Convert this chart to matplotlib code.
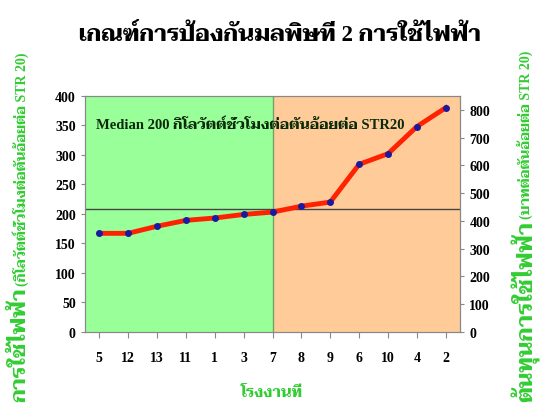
import matplotlib
matplotlib.use("Agg")
import matplotlib.pyplot as plt

plt.rcParams["font.family"] = ["Liberation Serif", "Taviraj"]
plt.rcParams["font.weight"] = "bold"

# factories ordered by electricity use
factories = ["5", "12", "13", "11", "1", "3", "7", "8", "9", "6", "10", "4", "2"]
usage = [167, 167, 179, 189, 193, 199, 203, 213, 220, 284, 302, 348, 380]
median_line = 208
split_at = "7"

title = "เกณฑ์การป้องกันมลพิษที่ 2 การใช้ไฟฟ้า"
median_text = "Median 200 กิโลวัตต์ชั่วโมงต่อตันอ้อยต่อ STR20"
xlabel = "โรงงานที่"
left_big, left_small = "การใช้ไฟฟ้า", "(กิโลวัตต์ชั่วโมงต่อตันอ้อยต่อ STR 20)"
right_big, right_small = "ต้นทุนการใช้ไฟฟ้า", "(บาทต่อตันอ้อยต่อ STR 20)"

green_txt = "#33cc33"

fig = plt.figure(figsize=(5.44, 4.14), dpi=100)
ax = fig.add_axes([0.156, 0.196, 0.690, 0.570])

x = list(range(len(factories)))
split = factories.index(split_at)
ax.axvspan(-0.5, split, color="#99ff99", zorder=0)
ax.axvspan(split, len(factories) - 0.5, color="#ffcc99", zorder=0)
ax.axvline(split, color="#66aa66", lw=1, zorder=1)
ax.axhline(median_line, color="#444444", lw=1, zorder=2)

ax.plot(x, usage, color="#ff2200", lw=3.5, zorder=3)
ax.plot(x, usage, "o", color="#1a1aa0", ms=4, zorder=4)

ax.set_xlim(-0.5, len(factories) - 0.5)
ax.set_ylim(0, 400)
ax.set_yticks(range(0, 401, 50))
ax.set_xticks(x)
ax.set_xticklabels(factories)
ax.tick_params(axis="x", labelsize=10, pad=10, length=4, color="#888888")
ax.tick_params(axis="y", labelsize=10, length=3, color="#888888")
for s in ax.spines.values():
    s.set_color("#888888")

ax2 = ax.twinx()
ax2.set_ylim(0, 850)
ax2.set_yticks(range(0, 801, 100))
ax2.tick_params(axis="y", labelsize=10, length=3, color="#888888")
for s in ax2.spines.values():
    s.set_color("#888888")

ax.text(0.03, 0.88, median_text, transform=ax.transAxes, fontsize=10.5,
        color="#0a2a0a", va="center", zorder=5)

fig.text(0.515, 0.915, title, ha="center", va="center", fontsize=16.5)
fig.text(0.5, 0.05, xlabel, ha="center", va="center", fontsize=11, color=green_txt)


def side_label(xpos, big, small, size):
    # big words at the bottom, the unit in smaller type continuing upward
    t = fig.text(xpos, 1 - 402 / 414, big, rotation=90, ha="center",
                 va="bottom", fontsize=size, color=green_txt)
    fig.canvas.draw()
    top = fig.transFigure.inverted().transform(
        t.get_window_extent().get_points())[1][1]
    fig.text(xpos, top + 0.004, small, rotation=90, ha="center", va="bottom",
             fontsize=10, color=green_txt)


side_label(0.038, left_big, left_small, 15.5)
side_label(0.966, right_big, right_small, 16)

fig.savefig("out.png", dpi=100)
